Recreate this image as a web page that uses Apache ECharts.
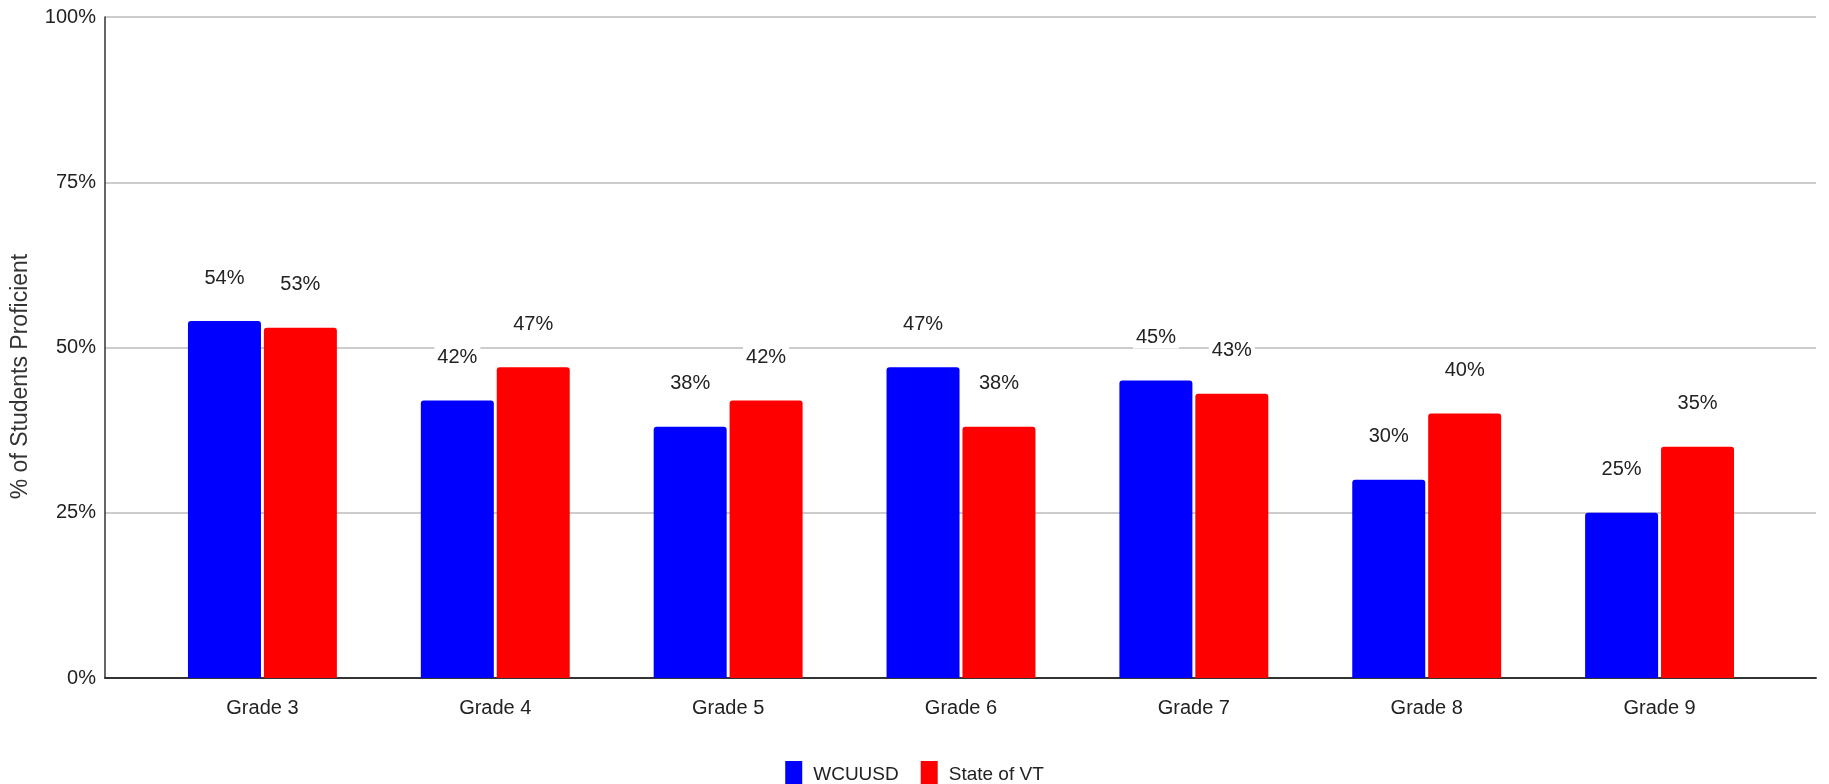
<!DOCTYPE html>
<html>
<head>
<meta charset="utf-8">
<script src="https://cdn.jsdelivr.net/npm/echarts@6/dist/echarts.min.js"></script>
<style>
html,body{margin:0;padding:0;background:#fff;}
#chart{width:1829px;height:784px;}
</style>
</head>
<body>
<div id="chart"></div>
<script>
const categories = ['Grade 3','Grade 4','Grade 5','Grade 6','Grade 7','Grade 8','Grade 9'];
const wcuusd = [54, 42, 38, 47, 45, 30, 25];
const stateVT = [53, 47, 42, 38, 43, 40, 35];
const seriesNames = ['WCUUSD', 'State of VT'];
const yTicks = [0, 25, 50, 75, 100];

const FONT = "'Liberation Sans Narrow', 'Liberation Sans', Arial, sans-serif";
const chart = echarts.init(document.getElementById('chart'));

function barLabel() {
  return {
    show: true,
    position: 'top',
    distance: 32,
    formatter: p => p.value + '%',
    fontFamily: FONT,
    fontSize: 20,
    color: '#222',
    backgroundColor: '#fff',
    padding: [1, 3]
  };
}

chart.setOption({
  animation: false,
  backgroundColor: '#fff',
  grid: [
    {left: 105, right: 13, top: 17, bottom: 106, outerBoundsMode: 'none', containLabel: false},
    {left: 146, right: 53, top: 17, bottom: 106, outerBoundsMode: 'none', containLabel: false}
  ],
  xAxis: [
    {gridIndex: 0, type: 'value', min: 0, max: 1,
     axisLine: {show: true, lineStyle: {color: '#333', width: 2}},
     axisTick: {show: false}, axisLabel: {show: false}, splitLine: {show: false}},
    {gridIndex: 1, type: 'category', data: categories,
     axisLine: {show: false}, axisTick: {show: false},
     axisLabel: {margin: 20, fontFamily: FONT, fontSize: 20, color: '#222'}}
  ],
  yAxis: [
    {gridIndex: 0, type: 'value', min: yTicks[0], max: yTicks[yTicks.length - 1], interval: 25,
     axisLine: {show: true, lineStyle: {color: '#333', width: 1.5}},
     axisTick: {show: false},
     axisLabel: {margin: 9, fontFamily: FONT, fontSize: 20, color: '#222', formatter: '{value}%'},
     splitLine: {show: true, lineStyle: {color: '#cccccc', width: 2}},
     name: '% of Students Proficient', nameLocation: 'middle', nameRotate: 90, nameGap: 73,
     nameTextStyle: {fontFamily: "'Liberation Sans', Arial, sans-serif", fontSize: 23, color: '#333',
                     padding: [0, 58, 0, 0]}},
    {gridIndex: 1, type: 'value', min: yTicks[0], max: yTicks[yTicks.length - 1], show: false}
  ],
  legend: {
    data: seriesNames,
    left: 'center', top: 756,
    icon: 'rect', itemWidth: 17, itemHeight: 27, itemGap: 22,
    textStyle: {fontFamily: FONT, fontSize: 19, color: '#222', padding: [0, 0, 0, 6]}
  },
  series: [
    {name: seriesNames[0], type: 'bar', xAxisIndex: 1, yAxisIndex: 1, data: wcuusd,
     barWidth: 73, barGap: '4%',
     itemStyle: {color: '#0000ff', borderRadius: [3, 3, 0, 0]}, label: barLabel()},
    {name: seriesNames[1], type: 'bar', xAxisIndex: 1, yAxisIndex: 1, data: stateVT,
     barWidth: 73, barGap: '4%',
     itemStyle: {color: '#ff0000', borderRadius: [3, 3, 0, 0]}, label: barLabel()}
  ]
});
</script>
</body>
</html>
